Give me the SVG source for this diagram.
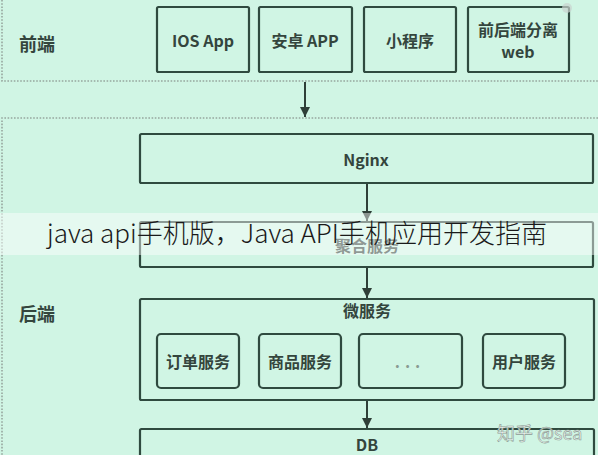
<svg xmlns="http://www.w3.org/2000/svg" width="598" height="455" viewBox="0 0 598 455">
<defs>
<style>
.bg{fill:#d0f5e4}
.dot{fill:none;stroke:#97a79e;stroke-width:1.6;stroke-dasharray:1.6 1.6}
.box{fill:none;stroke:#2f4a3f;stroke-width:2.2}
.t{font-family:"Noto Sans CJK SC","Liberation Sans",sans-serif;font-weight:bold;font-size:16px;fill:#34453d;text-anchor:middle;dominant-baseline:central}
.sec{font-size:18px}
.conn{stroke:#2f3f38;stroke-width:2;fill:none;marker-end:url(#ah)}
.ban{fill:#ffffff;fill-opacity:0.45}
.bt{font-family:"Noto Sans CJK SC","Noto Sans",sans-serif;font-weight:300;font-size:26px;fill:#1a1a1a}
.wm{font-family:"Noto Sans CJK SC",sans-serif;font-size:18px;fill:#f4f8f6;fill-opacity:0.9;stroke:#8a9a92;stroke-width:0.6}
</style>
<marker id="ah" viewBox="0 0 10 12" refX="10" refY="6" markerWidth="10" markerHeight="12" markerUnits="userSpaceOnUse" orient="auto">
<path d="M0,1 L10,6 L0,11 z" fill="#2f3f38"/>
</marker>
</defs>
<rect class="bg" x="0" y="0" width="598" height="455"/>
<g id="regions">
<path class="dot" d="M2,0 V81 H598"/>
<path class="dot" d="M598,118 H2 V455"/>
<text class="t sec" x="37" y="43">前端</text>
<text class="t sec" x="37" y="313">后端</text>
</g>
<g id="ios"><rect class="box" x="157" y="7" width="92" height="65" rx="1.5"/><text class="t" x="203" y="40">IOS App</text></g>
<g id="android"><rect class="box" x="259" y="7" width="93" height="65" rx="1.5"/><text class="t" x="305" y="40">安卓 APP</text></g>
<g id="miniapp"><rect class="box" x="364" y="7" width="92" height="65" rx="1.5"/><text class="t" x="410" y="40">小程序</text></g>
<g id="web"><rect class="box" x="468" y="7" width="101" height="65" rx="1.5"/><text class="t" x="518" y="29">前后端分离</text><text class="t" x="518" y="51">web</text></g>
<g id="nginx"><rect class="box" x="140" y="134" width="453" height="49" rx="1.5"/><text class="t" x="366" y="159">Nginx</text></g>
<g id="aggregate"><rect class="box" x="140" y="222" width="453" height="45" rx="1.5"/><text class="t" x="367" y="245">聚合服务</text></g>
<g id="micro"><rect class="box" x="140" y="299" width="454" height="101" rx="1.5"/><text class="t" x="367" y="310">微服务</text></g>
<g id="order"><rect class="box" x="157" y="334" width="82" height="54" rx="4"/><text class="t" x="198" y="361">订单服务</text></g>
<g id="product"><rect class="box" x="259" y="334" width="82" height="54" rx="4"/><text class="t" x="300" y="361">商品服务</text></g>
<g id="more"><rect class="box" x="359" y="334" width="103" height="54" rx="4"/><text class="t" x="410" y="361" style="fill:#8a9a92;letter-spacing:5px">...</text></g>
<g id="user"><rect class="box" x="483" y="334" width="82" height="54" rx="4"/><text class="t" x="524" y="361">用户服务</text></g>
<g id="db"><rect class="box" x="140" y="429" width="454" height="40" rx="1.5"/><text class="t" x="367" y="444">DB</text></g>
<g id="connectors">
<path class="conn" d="M305,82 V117"/>
<path class="conn" d="M367,184 V221"/>
<path class="conn" d="M367,268 V298"/>
<path class="conn" d="M367,401 V428"/>
</g>
<g id="banner">
<rect class="ban" x="0" y="213" width="598" height="42"/>
<text class="bt" x="47" y="243" textLength="500" lengthAdjust="spacingAndGlyphs">java api手机版，Java API手机应用开发指南</text>
</g>
<g id="watermark">
<text class="wm" x="497" y="440">知乎 @sea</text>
<circle cx="567" cy="8" r="5" fill="#c9d3ce" fill-opacity="0.7"/>
</g>
</svg>
